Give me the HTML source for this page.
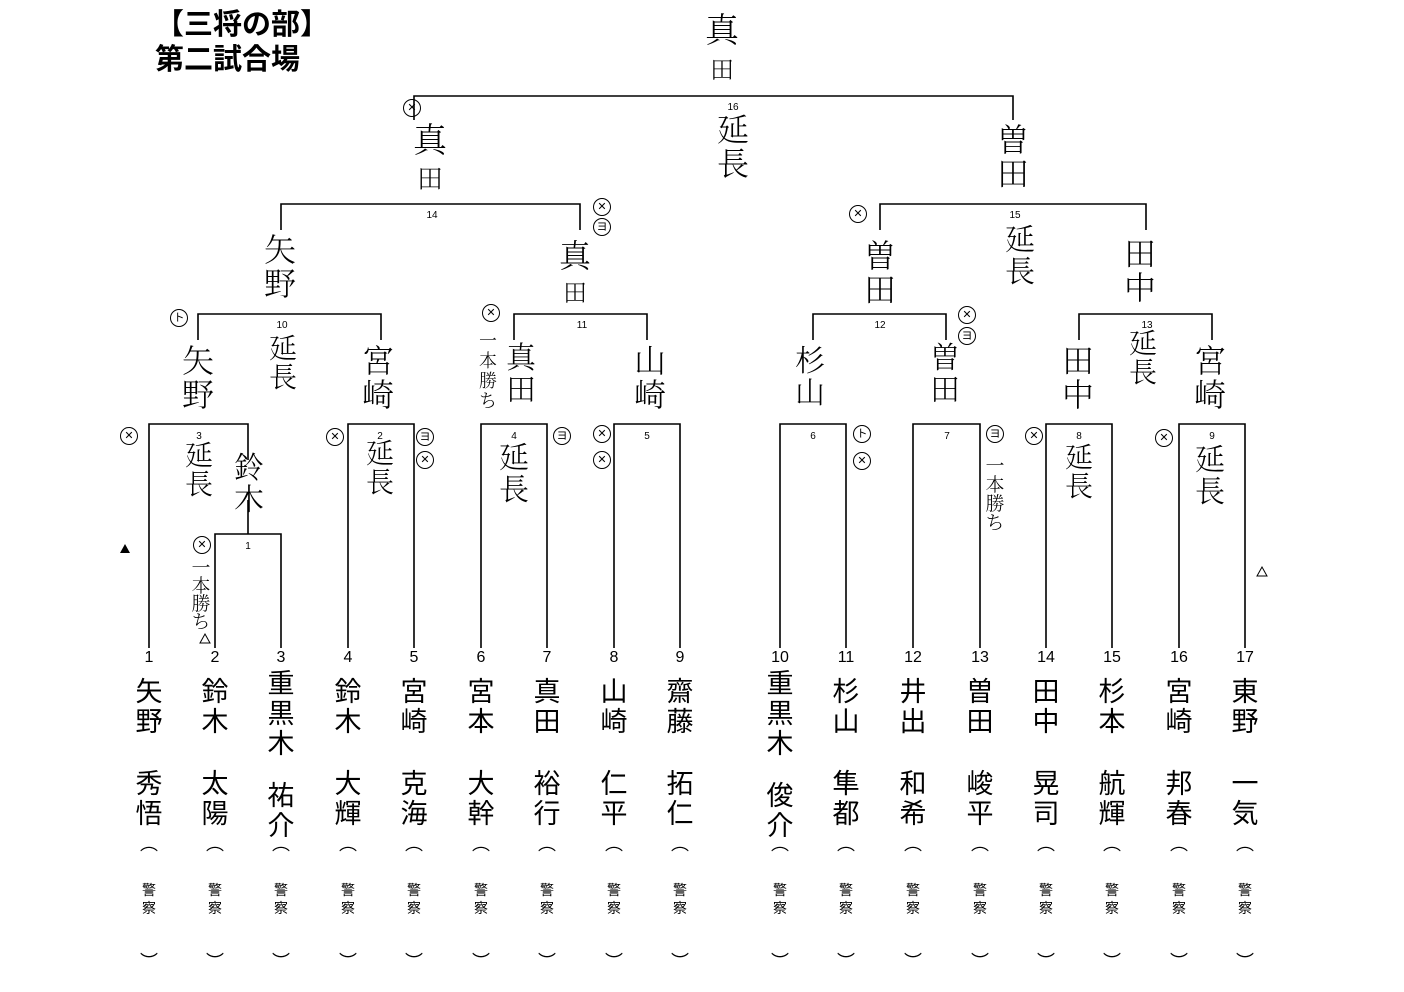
<!DOCTYPE html>
<html><head><meta charset="utf-8"><style>
body{margin:0;background:#fff;width:1404px;height:992px;position:relative;overflow:hidden;font-family:"Liberation Sans","Noto Sans CJK JP",sans-serif;color:#000}
.a{position:absolute}
.c{position:absolute;width:50px;text-align:center}
.c div{position:absolute;left:0;width:50px;text-align:center}
.n{top:649px;font-size:16px}
.s{top:677px;font-size:27px;line-height:30px}
.g{top:769px;font-size:27px;line-height:30px}
.p{top:830px;font-size:18px}
.k{top:881px;font-size:14px;line-height:18px}
.q{top:948px;font-size:18px}
.h{position:absolute;font-family:"Noto Serif CJK SC","Noto Sans CJK JP",serif;font-weight:300;text-align:center;width:50px;line-height:1.05}
.m{position:absolute;font-size:10px;width:20px;text-align:center}
.o{position:absolute;width:16px;height:16px;border:1.3px solid #000;border-radius:50%;font-size:11px;line-height:16px;text-align:center}
</style></head><body>
<div class="a" style="left:155px;top:8px;font-size:29px;line-height:35px;font-weight:bold;font-family:'Liberation Sans','Noto Sans CJK JP',sans-serif">【三将の部】<br>第二試合場</div>

<svg class="a" style="left:0;top:0" width="1404" height="992">
<g stroke="#000" stroke-width="1.6" fill="none">
<path d="M414 120V96H1013V120"/>
<path d="M281 230V204H580V230"/>
<path d="M880 230V204H1146V230"/>
<path d="M198 340V314H381V340"/>
<path d="M514 340V314H647V340"/>
<path d="M813 340V314H946V340"/>
<path d="M1079 340V314H1212V340"/>
<path d="M149 648V424H248V460"/>
<path d="M248 500V534"/>
<path d="M215 648V534H281V648"/>
<path d="M348 648V424H414V648"/>
<path d="M481 648V424H547V648"/>
<path d="M614 648V424H680V648"/>
<path d="M780 648V424H846V648"/>
<path d="M913 648V424H980V648"/>
<path d="M1046 648V424H1112V648"/>
<path d="M1179 648V424H1245V648"/>
</g>
<g fill="#000"><path d="M120 553l5-9 5 9z"/><path d="M200 643l5-9 5 9z" fill="none" stroke="#000"/><path d="M1257 576l5-9 5 9z" fill="none" stroke="#000"/></g>
</svg>

<div class="m" style="left:723px;top:102px">16</div>
<div class="m" style="left:422px;top:210px">14</div>
<div class="m" style="left:1005px;top:210px">15</div>
<div class="m" style="left:272px;top:320px">10</div>
<div class="m" style="left:572px;top:320px">11</div>
<div class="m" style="left:870px;top:320px">12</div>
<div class="m" style="left:1137px;top:320px">13</div>
<div class="m" style="left:189px;top:431px">3</div>
<div class="m" style="left:370px;top:431px">2</div>
<div class="m" style="left:504px;top:431px">4</div>
<div class="m" style="left:637px;top:431px">5</div>
<div class="m" style="left:803px;top:431px">6</div>
<div class="m" style="left:937px;top:431px">7</div>
<div class="m" style="left:1069px;top:431px">8</div>
<div class="m" style="left:1202px;top:431px">9</div>
<div class="m" style="left:238px;top:541px">1</div>

<div class="h" style="left:697px;top:10px;font-size:34px">真<br><span style="font-size:24px">田</span></div>
<div class="h" style="left:708px;top:112px;font-size:32px">延<br>長</div>
<div class="h" style="left:405px;top:120px;font-size:34px">真<br><span style="font-size:26px">田</span></div>
<div class="h" style="left:988px;top:122px;font-size:32px">曽<br>田</div>
<div class="h" style="left:255px;top:232px;font-size:32px">矢<br>野</div>
<div class="h" style="left:550px;top:238px;font-size:32px">真<br><span style="font-size:24px">田</span></div>
<div class="h" style="left:855px;top:238px;font-size:32px">曽<br>田</div>
<div class="h" style="left:995px;top:222px;font-size:30px">延<br>長</div>
<div class="h" style="left:1115px;top:236px;font-size:32px">田<br>中</div>
<div class="h" style="left:258px;top:333px;font-size:28px">延<br>長</div>
<div class="h" style="left:173px;top:343px;font-size:32px">矢<br>野</div>
<div class="h" style="left:353px;top:343px;font-size:32px">宮<br>崎</div>
<div class="h" style="left:496px;top:340px;font-size:30px">真<br>田</div>
<div class="h" style="left:478px;top:330px;width:20px;font-size:18px;line-height:20px">一<br>本<br>勝<br>ち</div>
<div class="h" style="left:625px;top:343px;font-size:32px">山<br>崎</div>
<div class="h" style="left:785px;top:343px;font-size:30px">杉<br>山</div>
<div class="h" style="left:920px;top:340px;font-size:30px">曽<br>田</div>
<div class="h" style="left:1118px;top:328px;font-size:28px">延<br>長</div>
<div class="h" style="left:1053px;top:343px;font-size:32px">田<br>中</div>
<div class="h" style="left:1185px;top:343px;font-size:32px">宮<br>崎</div>
<div class="h" style="left:174px;top:440px;font-size:28px">延<br>長</div>
<div class="h" style="left:224px;top:450px;font-size:30px">鈴<br>木</div>
<div class="h" style="left:355px;top:438px;font-size:28px">延<br>長</div>
<div class="h" style="left:489px;top:440px;font-size:30px">延<br>長</div>
<div class="h" style="left:1054px;top:442px;font-size:28px">延<br>長</div>
<div class="h" style="left:1185px;top:442px;font-size:30px">延<br>長</div>
<div class="h" style="left:190px;top:558px;width:22px;font-size:19px;line-height:18px">一<br>本<br>勝<br>ち</div>
<div class="h" style="left:984px;top:455px;width:22px;font-size:19px;line-height:19px">一<br>本<br>勝<br>ち</div>

<div class="o" style="left:403px;top:99px">✕</div>
<div class="o" style="left:593px;top:198px">✕</div>
<div class="o" style="left:593px;top:218px">ヨ</div>
<div class="o" style="left:849px;top:205px">✕</div>
<div class="o" style="left:170px;top:309px">ト</div>
<div class="o" style="left:482px;top:304px">✕</div>
<div class="o" style="left:958px;top:306px">✕</div>
<div class="o" style="left:958px;top:327px">ヨ</div>
<div class="o" style="left:120px;top:427px">✕</div>
<div class="o" style="left:326px;top:428px">✕</div>
<div class="o" style="left:416px;top:428px">ヨ</div>
<div class="o" style="left:416px;top:451px">✕</div>
<div class="o" style="left:553px;top:427px">ヨ</div>
<div class="o" style="left:593px;top:425px">✕</div>
<div class="o" style="left:593px;top:451px">✕</div>
<div class="o" style="left:853px;top:425px">ト</div>
<div class="o" style="left:853px;top:452px">✕</div>
<div class="o" style="left:986px;top:425px">ヨ</div>
<div class="o" style="left:1025px;top:427px">✕</div>
<div class="o" style="left:1155px;top:429px">✕</div>
<div class="o" style="left:193px;top:536px">✕</div>

<div class="c" style="left:124px"><div class="n">1</div><div class="s">矢<br>野</div><div class="g">秀<br>悟</div><div class="p">︵</div><div class="k">警<br>察</div><div class="q">︶</div></div>
<div class="c" style="left:190px"><div class="n">2</div><div class="s">鈴<br>木</div><div class="g">太<br>陽</div><div class="p">︵</div><div class="k">警<br>察</div><div class="q">︶</div></div>
<div class="c" style="left:256px"><div class="n">3</div><div class="s" style="top:669px">重<br>黒<br>木</div><div class="g" style="top:781px">祐<br>介</div><div class="p">︵</div><div class="k">警<br>察</div><div class="q">︶</div></div>
<div class="c" style="left:323px"><div class="n">4</div><div class="s">鈴<br>木</div><div class="g">大<br>輝</div><div class="p">︵</div><div class="k">警<br>察</div><div class="q">︶</div></div>
<div class="c" style="left:389px"><div class="n">5</div><div class="s">宮<br>崎</div><div class="g">克<br>海</div><div class="p">︵</div><div class="k">警<br>察</div><div class="q">︶</div></div>
<div class="c" style="left:456px"><div class="n">6</div><div class="s">宮<br>本</div><div class="g">大<br>幹</div><div class="p">︵</div><div class="k">警<br>察</div><div class="q">︶</div></div>
<div class="c" style="left:522px"><div class="n">7</div><div class="s">真<br>田</div><div class="g">裕<br>行</div><div class="p">︵</div><div class="k">警<br>察</div><div class="q">︶</div></div>
<div class="c" style="left:589px"><div class="n">8</div><div class="s">山<br>崎</div><div class="g">仁<br>平</div><div class="p">︵</div><div class="k">警<br>察</div><div class="q">︶</div></div>
<div class="c" style="left:655px"><div class="n">9</div><div class="s">齋<br>藤</div><div class="g">拓<br>仁</div><div class="p">︵</div><div class="k">警<br>察</div><div class="q">︶</div></div>
<div class="c" style="left:755px"><div class="n">10</div><div class="s" style="top:669px">重<br>黒<br>木</div><div class="g" style="top:781px">俊<br>介</div><div class="p">︵</div><div class="k">警<br>察</div><div class="q">︶</div></div>
<div class="c" style="left:821px"><div class="n">11</div><div class="s">杉<br>山</div><div class="g">隼<br>都</div><div class="p">︵</div><div class="k">警<br>察</div><div class="q">︶</div></div>
<div class="c" style="left:888px"><div class="n">12</div><div class="s">井<br>出</div><div class="g">和<br>希</div><div class="p">︵</div><div class="k">警<br>察</div><div class="q">︶</div></div>
<div class="c" style="left:955px"><div class="n">13</div><div class="s">曽<br>田</div><div class="g">峻<br>平</div><div class="p">︵</div><div class="k">警<br>察</div><div class="q">︶</div></div>
<div class="c" style="left:1021px"><div class="n">14</div><div class="s">田<br>中</div><div class="g">晃<br>司</div><div class="p">︵</div><div class="k">警<br>察</div><div class="q">︶</div></div>
<div class="c" style="left:1087px"><div class="n">15</div><div class="s">杉<br>本</div><div class="g">航<br>輝</div><div class="p">︵</div><div class="k">警<br>察</div><div class="q">︶</div></div>
<div class="c" style="left:1154px"><div class="n">16</div><div class="s">宮<br>崎</div><div class="g">邦<br>春</div><div class="p">︵</div><div class="k">警<br>察</div><div class="q">︶</div></div>
<div class="c" style="left:1220px"><div class="n">17</div><div class="s">東<br>野</div><div class="g">一<br>気</div><div class="p">︵</div><div class="k">警<br>察</div><div class="q">︶</div></div>
</body></html>
